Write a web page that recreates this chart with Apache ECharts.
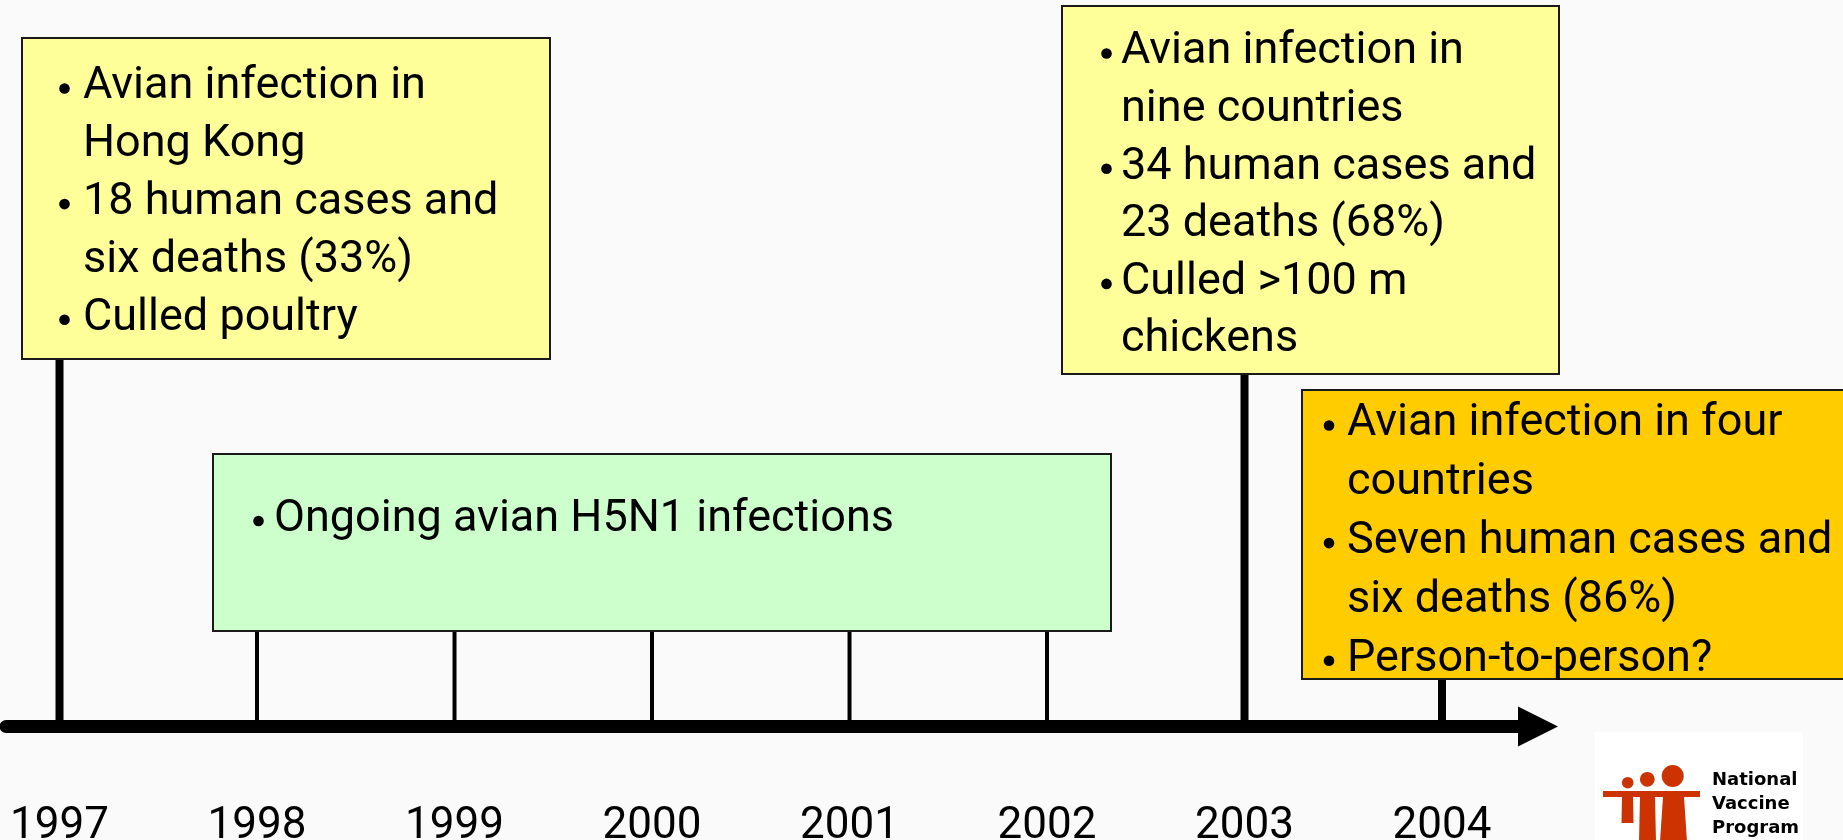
<!DOCTYPE html>
<html>
<head>
<meta charset="utf-8">
<script src="https://cdn.jsdelivr.net/npm/echarts@6/dist/echarts.min.js"></script>
<style>
html,body{margin:0;padding:0;background:#fafafa;}
#chart{width:1843px;height:840px;}
</style>
</head>
<body>
<div id="chart"></div>
<script>
// ---------------- data ----------------
const years = [1997, 1998, 1999, 2000, 2001, 2002, 2003, 2004];
const keyEventYears = [1997, 2003, 2004];
const ongoingYears = [1998, 1999, 2000, 2001, 2002];
const notes1997 = [['Avian infection in', 'Hong Kong'], ['18 human cases and', 'six deaths (33%)'], ['Culled poultry']];
const notesOngoing = [['Ongoing avian H5N1 infections']];
const notes2003 = [['Avian infection in', 'nine countries'], ['34 human cases and', '23 deaths (68%)'], ['Culled >100 m', 'chickens']];
const notes2004 = [['Avian infection in four', 'countries'], ['Seven human cases and', 'six deaths (86%)'], ['Person-to-person?']];
const logoLines = ['National', 'Vaccine', 'Program'];

// ---------------- layout / style ----------------
const BODY_FONT = 'Roboto, "Noto Sans", sans-serif';
const BODY_SIZE = 45;
const boxes = [
  { notes: notes1997, years: [1997], x: 22, y: 38, w: 528, h: 321, fill: '#FFFF99', bulletX: 64.5, textX: 83, base: 102.5, step: 57.8 },
  { notes: notesOngoing, years: ongoingYears, x: 213, y: 454, w: 898, h: 177, fill: '#CCFFCC', bulletX: 258.5, textX: 274, base: 535, step: 58 },
  { notes: notes2003, years: [2003], x: 1062, y: 6, w: 497, h: 368, fill: '#FFFF99', bulletX: 1106.5, textX: 1121, base: 67.5, step: 57.6 },
  { notes: notes2004, years: [2004], x: 1302, y: 390, w: 580, h: 289, fill: '#FFCC00', bulletX: 1329, textX: 1347, base: 439.5, step: 58.8 }
];

function boxBottomFor(year) {
  for (const b of boxes) if (b.years.indexOf(year) >= 0) return b.y + b.h;
  return 0;
}

const graphics = [];
boxes.forEach(function (b) {
  graphics.push({ type: 'rect', shape: { x: b.x, y: b.y, width: b.w, height: b.h },
    style: { fill: b.fill, stroke: '#1a1a1a', lineWidth: 2 }, z: 10 });
  let line = 0;
  b.notes.forEach(function (bullet) {
    bullet.forEach(function (txt, i) {
      const baseline = b.base + line * b.step;
      if (i === 0) {
        graphics.push({ type: 'circle', shape: { cx: b.bulletX, cy: baseline - 14, r: 5.3 },
          style: { fill: '#000' }, z: 11 });
      }
      graphics.push({ type: 'text', z: 11, style: { text: txt, x: b.textX, y: baseline - 0.342 * BODY_SIZE,
        fontFamily: BODY_FONT, fontSize: BODY_SIZE, fill: '#000', verticalAlign: 'middle', align: 'left' } });
      line++;
    });
  });
});

// logo
const RED = '#CC3300';
graphics.push({ type: 'rect', shape: { x: 1595, y: 732, width: 208, height: 110 }, style: { fill: '#ffffff' }, z: 10 });
graphics.push({ type: 'rect', shape: { x: 1603, y: 791, width: 97, height: 6 }, style: { fill: RED }, z: 11 });
graphics.push({ type: 'circle', shape: { cx: 1627.7, cy: 782.7, r: 5.8 }, style: { fill: RED }, z: 11 });
graphics.push({ type: 'circle', shape: { cx: 1647.3, cy: 779.3, r: 7.4 }, style: { fill: RED }, z: 11 });
graphics.push({ type: 'circle', shape: { cx: 1672.7, cy: 776, r: 11 }, style: { fill: RED }, z: 11 });
graphics.push({ type: 'polygon', shape: { points: [[1622, 797], [1633, 797], [1633.5, 823], [1621.5, 823]] }, style: { fill: RED }, z: 11 });
graphics.push({ type: 'polygon', shape: { points: [[1640, 797], [1655, 797], [1656, 842], [1639, 842]] }, style: { fill: RED }, z: 11 });
graphics.push({ type: 'polygon', shape: { points: [[1663, 797], [1684, 797], [1687, 842], [1660, 842]] }, style: { fill: RED }, z: 11 });
logoLines.forEach(function (t, i) {
  graphics.push({ type: 'text', z: 11, style: { text: t, x: 1712, y: 787 + i * 24 - 6.2,
    fontFamily: '"DejaVu Sans", Verdana, sans-serif', fontWeight: 'bold', fontSize: 18, fill: '#000',
    verticalAlign: 'middle', align: 'left' } });
});

function stemRenderer(width) {
  return function (params, api) {
    const year = api.value(0);
    const p = api.coord([year, 0]);
    return { type: 'line', shape: { x1: p[0], y1: boxBottomFor(year), x2: p[0], y2: p[1] },
      style: { stroke: '#000', lineWidth: width } };
  };
}

const chart = echarts.init(document.getElementById('chart'), null, { renderer: 'canvas' });
chart.setOption({
  backgroundColor: '#fafafa',
  animation: false,
  grid: { left: 6, right: 305, top: 0, bottom: 113.5, containLabel: false, outerBoundsMode: 'none' },
  xAxis: {
    type: 'value', min: 1996.729, max: 2004.486,
    axisLine: { show: true, onZero: false, symbol: ['none', 'triangle'], symbolSize: [40, 40],
      lineStyle: { color: '#000', width: 13 } },
    axisTick: { show: false },
    splitLine: { show: false },
    axisLabel: { customValues: years, formatter: function (v) { return String(v); }, margin: 78,
      fontFamily: BODY_FONT, fontSize: 44, lineHeight: 44, color: '#000' }
  },
  yAxis: { type: 'value', min: 0, max: 1, show: false },
  series: [
    { type: 'custom', name: 'Key events', clip: false, renderItem: stemRenderer(8),
      encode: { x: 0, y: 1 }, data: keyEventYears.map(function (y) { return [y, 0]; }), z: 1 },
    { type: 'custom', name: 'Ongoing', clip: false, renderItem: stemRenderer(4),
      encode: { x: 0, y: 1 }, data: ongoingYears.map(function (y) { return [y, 0]; }), z: 1 }
  ],
  graphic: { elements: graphics }
});
</script>
</body>
</html>
